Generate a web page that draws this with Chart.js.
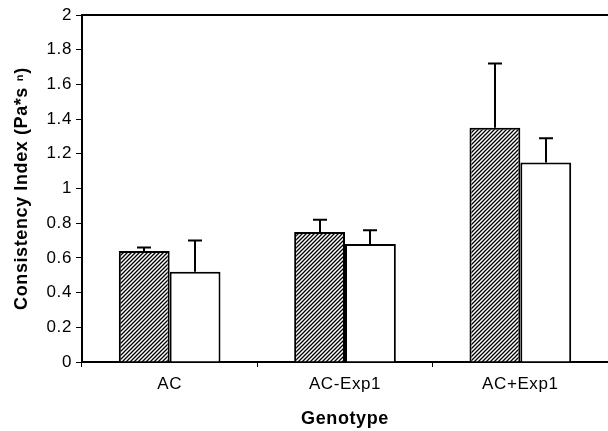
<!DOCTYPE html>
<html>
<head>
<meta charset="utf-8">
<script src="https://cdn.jsdelivr.net/npm/chart.js@4.4.0/dist/chart.umd.min.js"></script>
<style>
html,body{margin:0;padding:0;background:#fff;}
#wrap{width:608px;height:431px;position:relative;}
</style>
</head>
<body>
<div id="wrap"><canvas id="c" width="608" height="431"></canvas></div>
<script>
const categories = ['AC', 'AC-Exp1', 'AC+Exp1'];
const hatchedValues = [0.64, 0.75, 1.35];
const hatchedErrors = [0.02, 0.07, 0.37];
const whiteValues = [0.52, 0.68, 1.15];
const whiteErrors = [0.18, 0.08, 0.14];
const yTicks = [0, 0.2, 0.4, 0.6, 0.8, 1, 1.2, 1.4, 1.6, 1.8, 2];

const FAM = "'Liberation Sans', Arial, sans-serif";
Chart.defaults.font.family = FAM;
Chart.defaults.color = '#000';

function makeHatch() {
  const t = document.createElement('canvas');
  t.width = 4; t.height = 4;
  const g = t.getContext('2d');
  g.fillStyle = '#fff';
  g.fillRect(0, 0, 4, 4);
  g.strokeStyle = '#000';
  g.lineWidth = 1.3;
  g.beginPath();
  g.moveTo(-1, 5); g.lineTo(5, -1);
  g.moveTo(-1, 1); g.lineTo(1, -1);
  g.moveTo(3, 5); g.lineTo(5, 3);
  g.stroke();
  return g.createPattern(t, 'repeat');
}

const spacing = {
  id: 'spacing',
  beforeDraw(chart) { chart.ctx.letterSpacing = '0.6px'; }
};

const errorBars = {
  id: 'errorBars',
  afterDatasetsDraw(chart) {
    const ctx = chart.ctx;
    const y = chart.scales.y;
    ctx.save();
    ctx.strokeStyle = '#000';
    ctx.lineWidth = 2;
    chart.data.datasets.forEach((ds, di) => {
      const meta = chart.getDatasetMeta(di);
      meta.data.forEach((bar, i) => {
        const top = y.getPixelForValue(ds.data[i]);
        const et = y.getPixelForValue(ds.data[i] + ds.errors[i]);
        const x = Math.round(bar.x);
        ctx.beginPath();
        ctx.moveTo(x, top);
        ctx.lineTo(x, et);
        ctx.moveTo(x - 7, et);
        ctx.lineTo(x + 7, et);
        ctx.stroke();
      });
    });
    ctx.restore();
  }
};

const frame = {
  id: 'frame',
  afterDraw(chart) {
    const a = chart.chartArea;
    const ctx = chart.ctx;
    ctx.save();
    ctx.strokeStyle = '#000';
    ctx.lineWidth = 2;
    ctx.beginPath();
    ctx.moveTo(a.left, a.top);
    ctx.lineTo(a.right, a.top);
    ctx.stroke();
    ctx.restore();
  }
};

new Chart(document.getElementById('c'), {
  type: 'bar',
  data: {
    labels: categories,
    datasets: [
      { data: hatchedValues, errors: hatchedErrors, backgroundColor: makeHatch(), borderColor: '#000', borderWidth: 2, borderSkipped: 'bottom' },
      { data: whiteValues, errors: whiteErrors, backgroundColor: '#fff', borderColor: '#000', borderWidth: 2, borderSkipped: 'bottom' }
    ]
  },
  options: {
    responsive: false,
    animation: false,
    devicePixelRatio: 1,
    layout: { padding: { top: 15, right: 0, left: 0, bottom: 0 } },
    datasets: { bar: { categoryPercentage: 0.58, barPercentage: 1.0 } },
    plugins: { legend: { display: false }, tooltip: { enabled: false } },
    scales: {
      x: {
        grid: { display: true, drawOnChartArea: false, offset: true, color: '#000', tickLength: 5, lineWidth: 1 },
        border: { display: true, color: '#000', width: 2 },
        ticks: { color: '#000', font: { family: FAM, size: 17 }, padding: 7 },
        title: { display: true, text: 'Genotype', color: '#000', font: { family: FAM, size: 18, weight: 'bold' }, padding: { top: 0, bottom: 1 } },
        afterFit(s) { s.height = 69; }
      },
      y: {
        min: 0, max: 2,
        afterBuildTicks(s) { s.ticks = yTicks.map(v => ({ value: v })); },
        grid: { display: true, drawOnChartArea: false, color: '#000', tickLength: 6, lineWidth: 1 },
        border: { display: true, color: '#000', width: 2 },
        ticks: { color: '#000', font: { family: FAM, size: 17 }, padding: 4, callback: v => String(Math.round(v * 10) / 10) },
        title: { display: true, text: 'Consistency Index (Pa*s \u207F)', color: '#000', font: { family: FAM, size: 18, weight: 'bold' }, padding: { top: 11, bottom: 0 } },
        afterFit(s) { s.width = 82; }
      }
    }
  },
  plugins: [spacing, errorBars, frame]
});
</script>
</body>
</html>
